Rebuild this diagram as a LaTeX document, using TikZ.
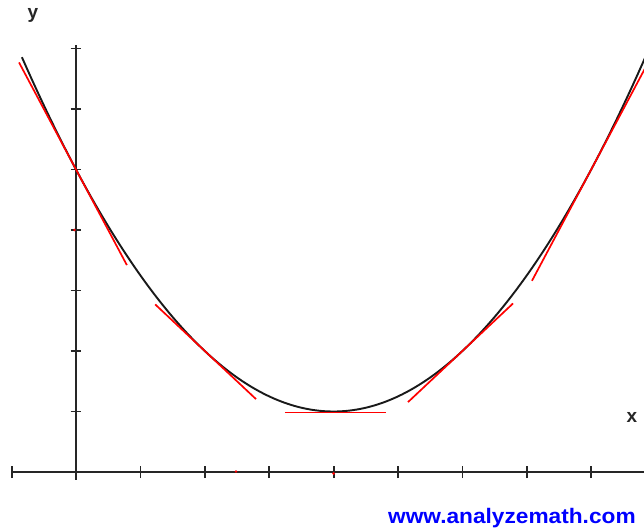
\documentclass[tikz,border=0pt]{standalone}
\usepackage{fontspec}
\setmainfont{Liberation Sans}
\begin{document}
\begin{tikzpicture}[x=1pt,y=-1pt,
  axisline/.style={draw=black!85, line width=2.1pt},
  tickmark/.style={draw=black!85, line width=1.8pt},
  curveline/.style={draw=black!90, line width=1.9pt},
  tangentline/.style={draw=red, line width=1.7pt},
  lbl/.style={font=\fontsize{19}{19}\selectfont\bfseries, text=black!85, inner sep=0pt},
  urlstyle/.style={font=\fontsize{21}{21}\selectfont\bfseries, text=blue, inner sep=0pt, anchor=base west}]
\useasboundingbox (0,0) rectangle (644,529);
\fill[white] (0,0) rectangle (644,529);
\clip (0,0) rectangle (644,529);
\begin{scope}[shift={(76,472)}, x=64.4pt, y=60.5pt]
  % axes
  \coordinate (xl) at (-1,0);
  \coordinate (xr) at (8.9,0);
  \coordinate (yb) at (0,-0.13);
  \coordinate (yt) at (0,7.06);
  \draw[axisline] (xl) -- (xr);
  \draw[axisline] (yb) -- (yt);
  \foreach \u in {-1,1,2,...,8} {
    \coordinate (xtb\u) at (\u,-0.1);
    \coordinate (xtt\u) at (\u,0.1);
    \draw[tickmark] (xtb\u) -- (xtt\u);
  }
  \foreach \v in {1,...,7} {
    \coordinate (ytl\v) at (-0.085,\v);
    \coordinate (ytr\v) at (0.085,\v);
    \draw[tickmark] (ytl\v) -- (ytr\v);
  }
  % curve
  \draw[curveline] plot[domain=-0.84:9, samples=150, smooth] (\x, {(\x-4)^2/4+1});
  % tangents
  \coordinate (t0a) at (-0.885, {5-2*(-0.885)});
  \coordinate (t0b) at (0.79, {5-2*0.79});
  \coordinate (t2a) at (1.23, {4-1.23});
  \coordinate (t2b) at (2.795, {4-2.795});
  \coordinate (t4a) at (3.245, 0.985);
  \coordinate (t4b) at (4.81, 0.985);
  \coordinate (t6a) at (5.155, {5.155-4});
  \coordinate (t6b) at (6.786, {6.786-4});
  \coordinate (t8a) at (7.08, {2*7.08-11});
  \coordinate (t8b) at (8.9, {2*8.9-11});
  \draw[tangentline] (t0a) -- (t0b);
  \draw[tangentline] (t2a) -- (t2b);
  \draw[tangentline] (t4a) -- (t4b);
  \draw[tangentline] (t6a) -- (t6b);
  \draw[tangentline] (t8a) -- (t8b);
\end{scope}
% small red marks
\fill[red] (74.5,230) circle (1.4);
\fill[red] (236,471.5) circle (1.4);
\fill[red] (333.5,473.5) circle (1.5);
% labels
\node[lbl] (ylab) at (33,15.5) {y};
\node[lbl] (xlab) at (632,417.5) {x};
\node[urlstyle] (url) at (388,523) {\scalebox{1.08}[1]{www.analyzemath.com}};
\end{tikzpicture}
\end{document}
